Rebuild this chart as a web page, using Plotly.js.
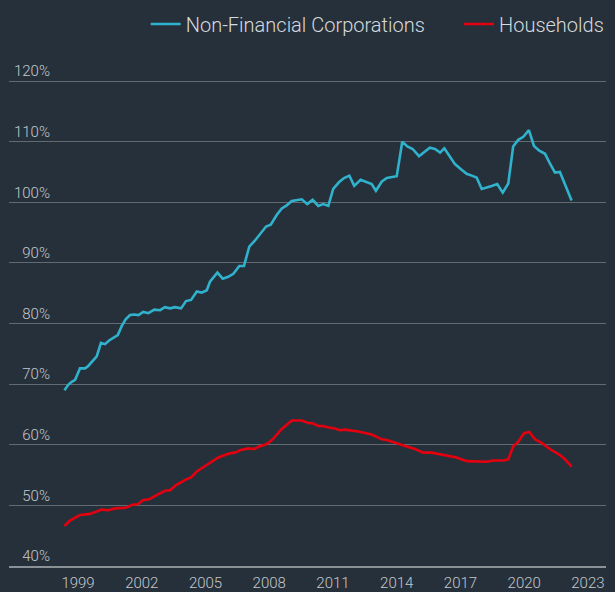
<!DOCTYPE html>
<html>
<head>
<meta charset="utf-8">
<script src="https://cdn.plot.ly/plotly-3.0.1.min.js"></script>
<style>
  html, body { margin: 0; padding: 0; background: #26303a; }
  #chart { width: 615px; height: 592px; }
</style>
</head>
<body>
<div id="chart"></div>
<script>
// Non-Financial Corporations (debt, % of GDP) - decimal year / value
const nfcYears = [1998.36,1998.54,1998.67,1998.86,1999.09,1999.33,1999.48,1999.67,1999.88,2000.08,2000.27,2000.46,2000.66,2000.87,2001.06,2001.24,2001.45,2001.65,2001.84,2002.07,2002.31,2002.59,2002.86,2003.09,2003.33,2003.56,2003.85,2004.08,2004.32,2004.59,2004.82,2005.06,2005.21,2005.41,2005.56,2005.81,2006.07,2006.31,2006.59,2006.81,2007.06,2007.33,2007.56,2007.85,2008.07,2008.35,2008.59,2008.82,2009.06,2009.29,2009.53,2009.79,2010.04,2010.31,2010.54,2010.78,2011.01,2011.28,2011.52,2011.77,2012.00,2012.30,2012.55,2012.82,2013.02,2013.29,2013.53,2013.76,2014.00,2014.26,2014.50,2014.75,2015.05,2015.30,2015.56,2015.80,2016.04,2016.24,2016.51,2016.74,2017.01,2017.29,2017.53,2017.76,2018.00,2018.23,2018.47,2018.73,2018.99,2019.25,2019.48,2019.72,2019.96,2020.22,2020.46,2020.71,2020.98,2021.21,2021.45,2021.68,2022.23];
const nfcValues = [69.0,69.9,70.3,70.7,72.6,72.6,73.0,73.7,74.6,76.8,76.6,77.2,77.7,78.1,79.6,80.7,81.4,81.5,81.4,81.9,81.7,82.3,82.2,82.7,82.5,82.7,82.5,83.7,83.9,85.3,85.1,85.5,86.9,87.8,88.4,87.4,87.7,88.2,89.5,89.5,92.7,93.7,94.7,96.0,96.3,97.9,99.0,99.5,100.2,100.3,100.5,99.7,100.4,99.4,99.7,99.4,102.2,103.3,104.0,104.4,102.7,103.7,103.4,103.0,101.9,103.4,104.0,104.1,104.3,110.0,109.2,108.8,107.6,108.3,109.0,108.8,108.2,108.9,107.4,106.3,105.5,104.7,104.4,104.1,102.2,102.5,102.7,103.0,101.6,103.1,109.2,110.3,110.8,111.9,109.3,108.5,108.0,106.4,104.9,105.0,100.3];

// Households
const hhYears = [1998.36,1998.62,1999.09,1999.56,2000.12,2000.43,2000.74,2001.24,2001.56,2001.81,2002.07,2002.34,2002.70,2003.09,2003.33,2003.60,2004.04,2004.32,2004.59,2005.10,2005.29,2005.60,2006.07,2006.47,2006.62,2007.01,2007.30,2007.52,2007.80,2007.96,2008.19,2008.59,2009.06,2009.53,2009.84,2010.07,2010.31,2010.52,2010.86,2011.09,2011.30,2011.56,2012.19,2012.51,2012.82,2013.06,2013.29,2013.53,2013.76,2014.00,2014.47,2014.86,2015.25,2015.64,2016.04,2016.51,2016.82,2017.29,2017.76,2018.23,2018.54,2019.01,2019.25,2019.48,2019.72,2019.99,2020.24,2020.51,2020.82,2021.21,2021.68,2021.92,2022.23];
const hhValues = [46.6,47.5,48.4,48.6,49.3,49.2,49.5,49.6,50.1,50.2,50.9,51.0,51.7,52.4,52.5,53.3,54.2,54.6,55.6,56.8,57.2,57.9,58.5,58.8,59.1,59.4,59.3,59.7,60.0,60.3,61.0,62.6,64.0,64.0,63.6,63.5,63.1,63.1,62.8,62.7,62.4,62.5,62.2,62.0,61.7,61.3,60.9,60.8,60.5,60.3,59.7,59.3,58.7,58.7,58.4,58.1,57.9,57.3,57.3,57.2,57.4,57.4,57.6,59.7,60.5,61.9,62.1,60.9,60.3,59.3,58.3,57.6,56.4];

const xTickVals = [1999,2002,2005,2008,2011,2014,2017,2020,2023];
const xTickText = ["1999","2002","2005","2008","2011","2014","2017","2020","2023"];
const yTickVals = [40,50,60,70,80,90,100,110,120];
const yTickText = ["40%","50%","60%","70%","80%","90%","100%","110%","120%"];

const FONT = "Roboto, Liberation Sans, sans-serif";

const traces = [
  {x: nfcYears, y: nfcValues, name: "Non-Financial Corporations", type: "scatter", mode: "lines",
   line: {color: "#30b2cc", width: 2.6}, legend: "legend"},
  {x: hhYears, y: hhValues, name: "Households", type: "scatter", mode: "lines",
   line: {color: "#e5000f", width: 2.6}, legend: "legend2"}
];

const legendFont = {family: FONT, size: 20, color: "#d6dade", weight: 300};

const layout = {
  width: 615, height: 592,
  paper_bgcolor: "#26303a", plot_bgcolor: "#26303a",
  margin: {l: 9, r: 9, t: 75, b: 26, autoexpand: false},
  font: {family: FONT, color: "#c3c8cd", size: 15},
  showlegend: true,
  legend: {orientation: "h", x: 0.229, xanchor: "left", y: 1.104, yanchor: "middle",
           font: legendFont, bgcolor: "rgba(0,0,0,0)"},
  legend2: {orientation: "h", x: 0.7538, xanchor: "left", y: 1.104, yanchor: "middle",
           font: legendFont, bgcolor: "rgba(0,0,0,0)"},
  xaxis: {range: [1995.75, 2023.85], tickvals: xTickVals, ticktext: xTickText,
          showgrid: false, zeroline: false, showline: true, linecolor: "#8a9197", linewidth: 2,
          ticks: "", ticklabelstandoff: 2,
          tickfont: {family: FONT, size: 15, color: "#c3c8cd", weight: 300}, fixedrange: true},
  yaxis: {range: [40, 121], tickvals: yTickVals, ticktext: yTickText,
          showgrid: true, gridcolor: "#626a72", gridwidth: 1, zeroline: false, showline: false,
          ticks: "", ticklabelposition: "outside", ticklabelstandoff: -42, ticklabelshift: -10,
          tickfont: {family: FONT, size: 15, color: "#c3c8cd", weight: 300}, automargin: false, fixedrange: true}
};

Plotly.newPlot("chart", traces, layout, {displayModeBar: false, staticPlot: true});
</script>
</body>
</html>
